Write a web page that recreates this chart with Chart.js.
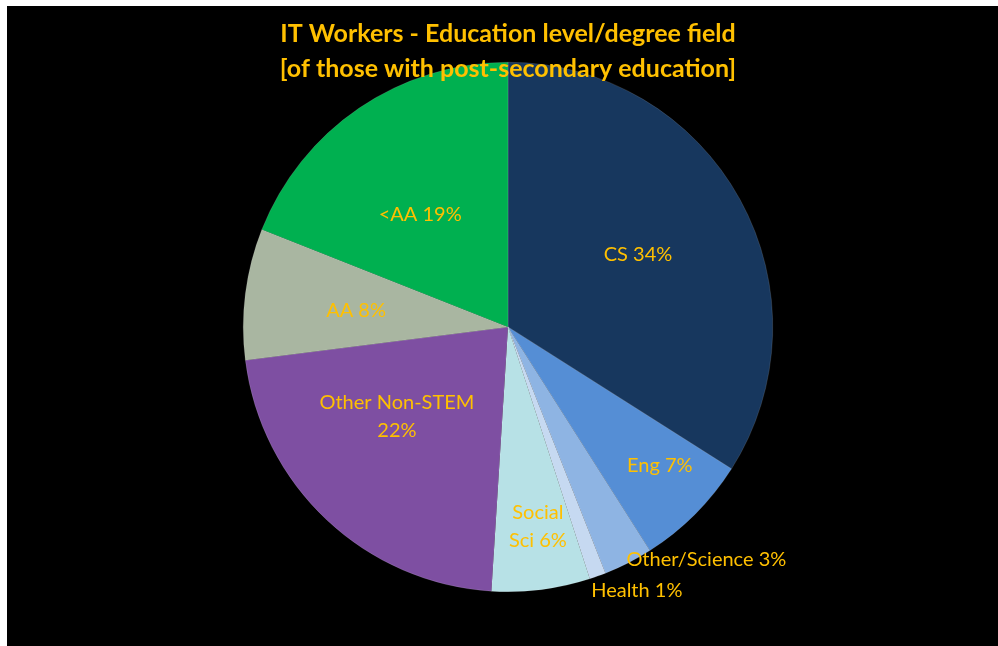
<!DOCTYPE html>
<html>
<head>
<meta charset="utf-8">
<script src="https://cdn.jsdelivr.net/npm/chart.js@4.4.1/dist/chart.umd.min.js"></script>
<style>
  html, body { margin: 0; padding: 0; background: #ffffff; }
  #wrap { position: absolute; left: 7px; top: 6px; width: 991px; height: 640px; background: #000000; }
</style>
</head>
<body>
<div id="wrap"><canvas id="myChart" width="991" height="640"></canvas></div>
<script>
// chart data
const categories = ["CS", "Eng", "Other/Science", "Health", "Social Sci", "Other Non-STEM", "AA", "<AA"];
const shares = [34, 7, 3, 1, 6, 22, 8, 19];
const sliceLabels = [
  ["CS 34%"],
  ["Eng 7%"],
  ["Other/Science 3%"],
  ["Health 1%"],
  ["Social", "Sci 6%"],
  ["Other Non-STEM", "22%"],
  ["AA 8%"],
  ["<AA 19%"],
];
const titleLines = ["IT Workers - Education level/degree field", "[of those with post-secondary education]"];

const sliceColors = ["#17375E", "#558ED5", "#8EB4E3", "#C6D9F1", "#B7E1E6", "#7E4FA2", "#A9B6A1", "#00B050"];
// label placement: fraction of radius, angle nudge (deg), outside or not
const labelRadius = [0.563, 0.775, 0.985, 1.045, 0.763, 0.54, 0.577, 0.54];
const labelNudge = [-0.5, -2.7, 0, 2.3, -1.3, 7.8, -1.2, -3.7];
const labelOutside = [false, false, true, true, false, false, false, false];

const gold = "#FFC000";

const sliceLabelPlugin = {
  id: "sliceLabels",
  afterDatasetsDraw(chart) {
    const ctx = chart.ctx;
    const arcs = chart.getDatasetMeta(0).data;
    ctx.save();
    ctx.fillStyle = gold;
    ctx.font = "20px Lato";
    ctx.textBaseline = "middle";
    arcs.forEach((arc, i) => {
      const p = arc.getProps(["x", "y", "startAngle", "endAngle", "outerRadius"], true);
      const mid = (p.startAngle + p.endAngle) / 2 + labelNudge[i] * Math.PI / 180;
      const r = p.outerRadius * labelRadius[i];
      const x = p.x + Math.cos(mid) * r;
      const y = p.y + Math.sin(mid) * r;
      const lines = sliceLabels[i];
      const lh = 28;
      ctx.textAlign = labelOutside[i] ? "left" : "center";
      lines.forEach((t, k) => {
        ctx.fillText(t, x, y + (k - (lines.length - 1) / 2) * lh);
      });
    });
    ctx.restore();
  },
};

const titlePlugin = {
  id: "overTitle",
  afterDraw(chart) {
    const ctx = chart.ctx;
    ctx.save();
    ctx.fillStyle = gold;
    ctx.font = "bold 25px Lato";
    ctx.textAlign = "center";
    ctx.textBaseline = "middle";
    ctx.fillText(titleLines[0], 501, 28);
    ctx.fillText(titleLines[1], 501, 63);
    ctx.restore();
  },
};

const ctx = document.getElementById("myChart").getContext("2d");
new Chart(ctx, {
  type: "pie",
  data: {
    labels: categories,
    datasets: [
      {
        data: shares,
        backgroundColor: sliceColors,
        borderColor: "rgba(255,255,255,0.25)",
        borderWidth: 0.5,
      },
    ],
  },
  options: {
    responsive: false,
    animation: false,
    layout: {
      padding: { top: 56, bottom: 54, left: 11, right: 0 },
    },
    plugins: {
      legend: { display: false },
      tooltip: { enabled: false },
      title: { display: false },
    },
  },
  plugins: [sliceLabelPlugin, titlePlugin],
});
</script>
</body>
</html>
